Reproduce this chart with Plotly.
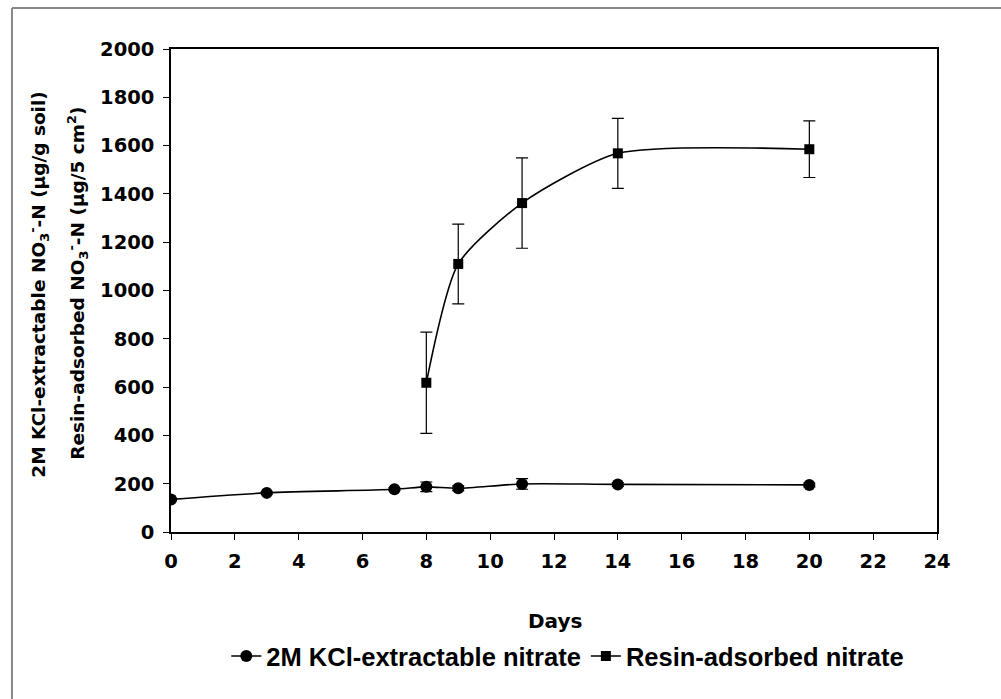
import plotly.graph_objects as go

# Days sampled
kcl_days = [0, 3, 7, 8, 9, 11, 14, 20]
resin_days = [8, 9, 11, 14, 20]

# 2M KCl-extractable nitrate (µg/g soil) and its error
kcl_vals = [135, 162, 177, 187, 181, 199, 197, 195]
kcl_err = [5, 5, 6, 20, 10, 22, 8, 8]

# Resin-adsorbed nitrate (µg/5 cm²) and its error
resin_vals = [618, 1110, 1362, 1568, 1585]
resin_err = [210, 165, 187, 145, 117]

x_ticks = list(range(0, 25, 2))
y_ticks = list(range(0, 2001, 200))

bold_font = "DejaVu Sans"

fig = go.Figure()

fig.add_trace(go.Scatter(
    x=kcl_days, y=kcl_vals,
    mode="lines+markers",
    name="2M KCl-extractable nitrate",
    line=dict(color="black", width=1.6, shape="spline", smoothing=0.8),
    marker=dict(symbol="circle", size=12, color="black"),
    error_y=dict(type="data", array=kcl_err, color="black", thickness=1.2, width=6),
))

fig.add_trace(go.Scatter(
    x=resin_days, y=resin_vals,
    mode="lines+markers",
    name="Resin-adsorbed nitrate",
    line=dict(color="black", width=1.6, shape="spline", smoothing=0.65),
    marker=dict(symbol="square", size=10, color="black"),
    error_y=dict(type="data", array=resin_err, color="black", thickness=1.2, width=6),
))

axis_common = dict(
    showgrid=False, zeroline=False,
    showline=True, linecolor="black", linewidth=1.5, mirror=True,
    ticks="outside", ticklen=6, tickcolor="black", tickwidth=1,
    tickfont=dict(family=bold_font, size=19.5, color="black", weight="bold"),
    ticklabelstandoff=5,
)
fig.update_xaxes(range=[0, 24], tickvals=x_ticks,
                 ticktext=[str(v) for v in x_ticks], **axis_common)
fig.update_yaxes(range=[0, 2000], tickvals=y_ticks,
                 ticktext=[str(v) for v in y_ticks], **axis_common)

annotations = [
    dict(text="Days", x=0.501, y=-0.185, xref="paper", yref="paper",
         showarrow=False, xanchor="center", yanchor="middle",
         font=dict(family=bold_font, size=20, color="black", weight="bold")),
    dict(text="2M KCl-extractable NO<sub>3</sub><sup>-</sup>-N (µg/g soil)",
         x=-0.173, y=0.513, xref="paper", yref="paper", textangle=-90,
         showarrow=False, xanchor="center", yanchor="middle",
         font=dict(family=bold_font, size=18.5, color="black", weight="bold")),
    dict(text="Resin-adsorbed NO<sub>3</sub><sup>-</sup>-N (µg/5 cm<sup>2</sup>)",
         x=-0.122, y=0.515, xref="paper", yref="paper", textangle=-90,
         showarrow=False, xanchor="center", yanchor="middle",
         font=dict(family=bold_font, size=18.5, color="black", weight="bold")),
]

# Outer frame lines (left and top edges)
shapes = [
    dict(type="line", xref="paper", yref="paper", x0=-0.2076, x1=-0.2076,
         y0=-0.35, y1=1.085, line=dict(color="#888888", width=2)),
    dict(type="line", xref="paper", yref="paper", x0=-0.2076, x1=1.1,
         y0=1.085, y1=1.085, line=dict(color="#888888", width=2)),
]

fig.update_layout(
    width=1001, height=699,
    margin=dict(l=171, r=64, t=49, b=167),
    paper_bgcolor="white", plot_bgcolor="white",
    showlegend=True,
    legend=dict(
        orientation="h", x=0.518, y=-0.2575, xanchor="center", yanchor="middle",
        font=dict(family="Liberation Sans Narrow, Liberation Sans", size=25.5,
                  color="black", weight="bold"),
        itemwidth=30, tracegroupgap=0, bgcolor="rgba(0,0,0,0)",
    ),
    annotations=annotations,
    shapes=shapes,
)

fig.write_html("out.html")
